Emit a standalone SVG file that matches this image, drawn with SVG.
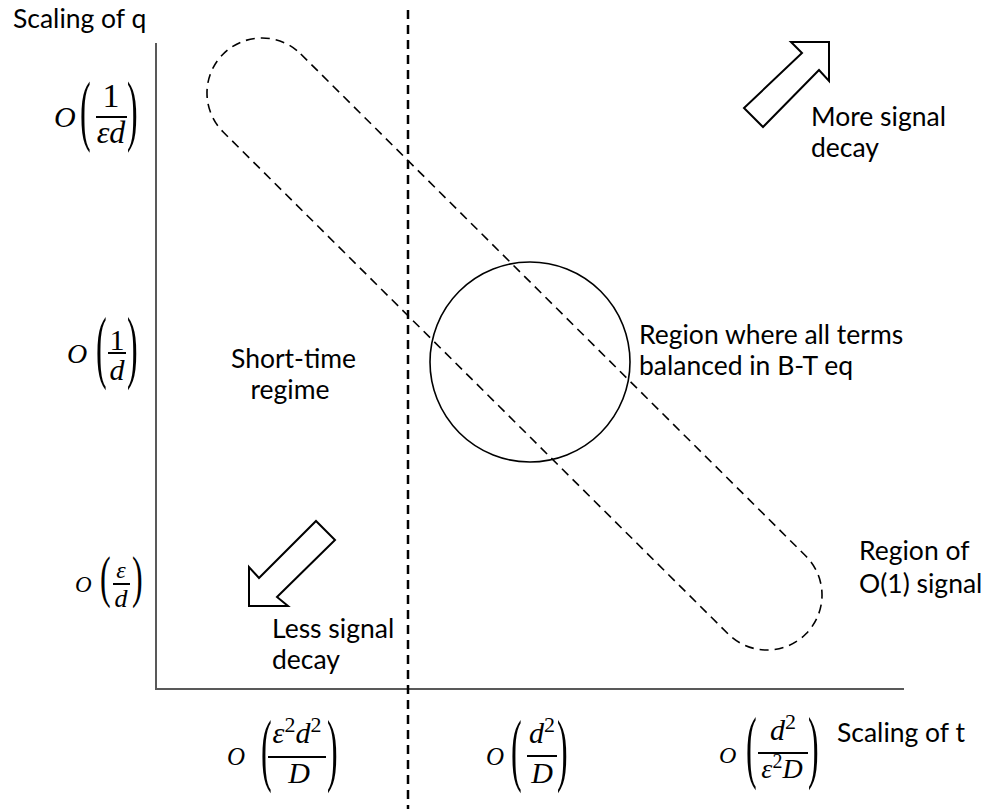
<svg xmlns="http://www.w3.org/2000/svg" width="987" height="809" viewBox="0 0 987 809">
<style>
.lbl{font-family:Lato,"Liberation Sans",sans-serif;font-size:26.5px;fill:#000}
.m{font-family:"Liberation Serif","DejaVu Serif",serif;font-style:italic;fill:#000}
.d{font-family:"Liberation Serif","DejaVu Serif",serif;font-style:normal;fill:#000}
.par{font-family:"Liberation Serif","DejaVu Serif",serif;font-size:32px;fill:#000}
.bar{stroke:#000;stroke-width:2}
.axis{stroke:#595959;stroke-width:2;fill:none}
.dash{stroke:#000;stroke-width:1.6;fill:none;stroke-dasharray:9 6}
.vdash{stroke:#000;stroke-width:2.5;fill:none;stroke-dasharray:9 6}
.arrow{stroke:#000;stroke-width:2;fill:#fff;stroke-linejoin:miter}
</style>
<rect width="987" height="809" fill="#fff"/>

<g id="axes">
<line class="axis" x1="156" y1="43" x2="156" y2="689"/>
<line class="axis" x1="155" y1="689" x2="904" y2="689"/>
</g>

<g id="connectors">
<line class="vdash" x1="408" y1="10" x2="408" y2="809"/>
</g>

<g id="o1-region">
<path class="dash" d="M300.8,54 L805.8,556 A55,55 0 0 1 728.2,634 L223.2,132 A55,55 0 0 1 300.8,54 Z"/>
<text class="lbl" x="859" y="560">Region of</text>
<text class="lbl" x="859" y="593">O(1) signal</text>
</g>

<g id="balance-region">
<circle cx="530" cy="362" r="100" fill="none" stroke="#000" stroke-width="1.6"/>
<text class="lbl" x="639" y="344">Region where all terms</text>
<text class="lbl" x="639" y="375">balanced in B-T eq</text>
</g>

<g id="short-time">
<text class="lbl" x="231" y="368">Short-time</text>
<text class="lbl" x="290" y="399" text-anchor="middle">regime</text>
</g>

<g id="more-decay">
<polygon class="arrow" points="829,42 791,42 802,53 744,108 763,127 819,70 829,81"/>
<text class="lbl" x="811" y="126">More signal</text>
<text class="lbl" x="811" y="157">decay</text>
</g>

<g id="less-decay">
<polygon class="arrow" points="249,606 249,567 259,578 316,521 335,540 277,597 288,606"/>
<text class="lbl" x="272" y="638">Less signal</text>
<text class="lbl" x="272" y="669">decay</text>
</g>

<g id="y-title">
<text class="lbl" x="13" y="28">Scaling of q</text>
</g>
<g id="x-title">
<text class="lbl" x="837" y="742">Scaling of t</text>
</g>

<g id="ylabel-1">
<text class="m" x="54" y="127" font-size="30">O</text>
<text class="par" transform="translate(80,136) scale(1,2.45)">(</text>
<text class="d" x="111" y="107" font-size="34" text-anchor="middle">1</text>
<line class="bar" x1="96" y1="117" x2="127" y2="117"/>
<text class="m" x="111" y="143" font-size="32" text-anchor="middle">εd</text>
<text class="par" transform="translate(127,136) scale(1,2.45)">)</text>
</g>

<g id="ylabel-2">
<text class="m" x="67" y="363" font-size="28">O</text>
<text class="par" transform="translate(96,373) scale(1,2.5)">(</text>
<text class="d" x="117" y="350" font-size="30" text-anchor="middle">1</text>
<line class="bar" x1="108" y1="353" x2="126" y2="353"/>
<text class="m" x="117" y="380" font-size="30" text-anchor="middle">d</text>
<text class="par" transform="translate(127,373) scale(1,2.5)">)</text>
</g>

<g id="ylabel-3">
<text class="m" x="75" y="592" font-size="23">O</text>
<text class="par" transform="translate(100,596) scale(1,1.8)">(</text>
<text class="m" x="121" y="578" font-size="24" text-anchor="middle">ε</text>
<line class="bar" x1="113" y1="584" x2="130" y2="584"/>
<text class="m" x="121" y="607" font-size="26" text-anchor="middle">d</text>
<text class="par" transform="translate(132,596) scale(1,1.8)">)</text>
</g>

<g id="xlabel-1">
<text class="m" x="227" y="765" font-size="25">O</text>
<text class="par" transform="translate(261,776) scale(1,2.5)">(</text>
<text class="m" x="297" y="743" font-size="30" text-anchor="middle">ε<tspan class="d" font-size="22" dy="-11">2</tspan><tspan dy="11">d</tspan><tspan class="d" font-size="22" dy="-11">2</tspan></text>
<line class="bar" x1="268" y1="757" x2="326" y2="757"/>
<text class="m" x="299" y="783" font-size="30" text-anchor="middle">D</text>
<text class="par" transform="translate(327,776) scale(1,2.5)">)</text>
</g>

<g id="xlabel-2">
<text class="m" x="486" y="765" font-size="25">O</text>
<text class="par" transform="translate(511,776) scale(1,2.5)">(</text>
<text class="m" x="542" y="743" font-size="30" text-anchor="middle">d<tspan class="d" font-size="22" dy="-11">2</tspan></text>
<line class="bar" x1="527" y1="756" x2="557" y2="756"/>
<text class="m" x="542" y="783" font-size="30" text-anchor="middle">D</text>
<text class="par" transform="translate(557,776) scale(1,2.5)">)</text>
</g>

<g id="xlabel-3">
<text class="m" x="719" y="763" font-size="24">O</text>
<text class="par" transform="translate(746,773) scale(1,2.5)">(</text>
<text class="m" x="783" y="740" font-size="30" text-anchor="middle">d<tspan class="d" font-size="22" dy="-11">2</tspan></text>
<line class="bar" x1="758" y1="753" x2="808" y2="753"/>
<text class="m" x="782" y="778" font-size="28" text-anchor="middle">ε<tspan class="d" font-size="20" dy="-10">2</tspan><tspan dy="10">D</tspan></text>
<text class="par" transform="translate(808,773) scale(1,2.5)">)</text>
</g>
</svg>
